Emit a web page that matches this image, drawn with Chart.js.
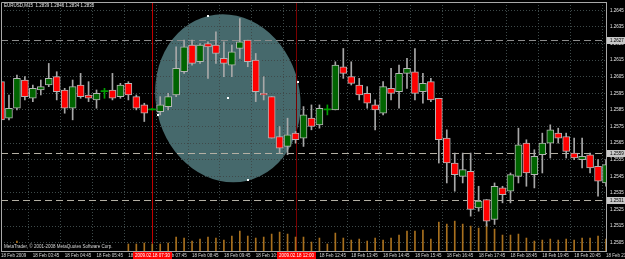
<!DOCTYPE html>
<html>
<head>
<meta charset="utf-8">
<script src="https://cdn.jsdelivr.net/npm/chart.js@4.4.0/dist/chart.umd.min.js"></script>
<style>
  html, body { margin: 0; padding: 0; background: #000; }
  canvas { display: block; background: #000; }
</style>
</head>
<body>
<canvas id="chart" width="625" height="259"></canvas>
<script>
// EURUSD M15, 18 Feb 2009
const times = [
  "02:45", "03:00", "03:15", "03:30", "03:45", "04:00", "04:15", "04:30", "04:45", "05:00",
  "05:15", "05:30", "05:45", "06:00", "06:15", "06:30", "06:45", "07:00", "07:15", "07:30",
  "07:45", "08:00", "08:15", "08:30", "08:45", "09:00", "09:15", "09:30", "09:45", "10:00",
  "10:15", "10:30", "10:45", "11:00", "11:15", "11:30", "11:45", "12:00", "12:15", "12:30",
  "12:45", "13:00", "13:15", "13:30", "13:45", "14:00", "14:15", "14:30", "14:45", "15:00",
  "15:15", "15:30", "15:45", "16:00", "16:15", "16:30", "16:45", "17:00", "17:15", "17:30",
  "17:45", "18:00", "18:15", "18:30", "18:45", "19:00", "19:15", "19:30", "19:45", "20:00",
  "20:15", "20:30", "20:45", "21:00", "21:15", "21:30", "21:45"
];

const opens = [
  1.2602, 1.2580, 1.2586, 1.2603, 1.2592, 1.2597, 1.2600, 1.2605, 1.2597, 1.2586,
  1.2600, 1.2594, 1.2591, 1.2596, 1.2597, 1.2593, 1.2601, 1.2593, 1.2588, 1.2585,
  1.2584, 1.2587, 1.2594, 1.2608, 1.2624, 1.2614, 1.2625, 1.2624, 1.2616, 1.2612,
  1.2622, 1.2627, 1.2615, 1.2595, 1.2593, 1.2569, 1.2563, 1.2571, 1.2568, 1.2580,
  1.2576, 1.2585, 1.2585, 1.2611, 1.2605, 1.2600, 1.2595, 1.2588, 1.2583, 1.2598,
  1.2596, 1.2607, 1.2608, 1.2596, 1.2602, 1.2592, 1.2568, 1.2553, 1.2545, 1.2548,
  1.2526, 1.2531, 1.2519, 1.2538, 1.2536, 1.2545, 1.2565, 1.2546, 1.2558, 1.2565,
  1.2571, 1.2569, 1.2559, 1.2555, 1.2558, 1.2551, 1.2541
];
const highs = [
  1.2603, 1.2594, 1.2606, 1.2605, 1.2600, 1.2603, 1.2613, 1.2608, 1.2598, 1.2603,
  1.2607, 1.2602, 1.2597, 1.2598, 1.2607, 1.2601, 1.2602, 1.2594, 1.2589, 1.2586,
  1.2593, 1.2595, 1.2623, 1.2627, 1.2627, 1.2625, 1.2626, 1.2632, 1.2626, 1.2624,
  1.2640, 1.2627, 1.2619, 1.2605, 1.2593, 1.2575, 1.2580, 1.2572, 1.2587, 1.2588,
  1.2588, 1.2588, 1.2614, 1.2622, 1.2614, 1.2604, 1.2599, 1.2591, 1.2602, 1.2610,
  1.2612, 1.2616, 1.2622, 1.2607, 1.2604, 1.2592, 1.2573, 1.2559, 1.2559, 1.2559,
  1.2539, 1.2531, 1.2541, 1.2539, 1.2547, 1.2574, 1.2567, 1.2561, 1.2571, 1.2576,
  1.2574, 1.2571, 1.2568, 1.2568, 1.2559, 1.2555, 1.2555
];
const lows = [
  1.2576, 1.2579, 1.2585, 1.2591, 1.2590, 1.2594, 1.2599, 1.2591, 1.2583, 1.2579,
  1.2592, 1.2590, 1.2586, 1.2592, 1.2591, 1.2592, 1.2591, 1.2585, 1.2578, 1.2585,
  1.2582, 1.2585, 1.2593, 1.2607, 1.2612, 1.2613, 1.2604, 1.2613, 1.2605, 1.2605,
  1.2616, 1.2611, 1.2590, 1.2591, 1.2568, 1.2559, 1.2558, 1.2565, 1.2563, 1.2573,
  1.2574, 1.2582, 1.2585, 1.2604, 1.2600, 1.2591, 1.2586, 1.2573, 1.2582, 1.2591,
  1.2586, 1.2598, 1.2591, 1.2589, 1.2590, 1.2553, 1.2541, 1.2536, 1.2541, 1.2521,
  1.2524, 1.2515, 1.2516, 1.2529, 1.2529, 1.2541, 1.2539, 1.2538, 1.2547, 1.2556,
  1.2565, 1.2556, 1.2555, 1.2550, 1.2547, 1.2533, 1.2539
];
const closes = [
  1.2579, 1.2586, 1.2604, 1.2593, 1.2598, 1.2599, 1.2604, 1.2596, 1.2586, 1.2599,
  1.2593, 1.2592, 1.2595, 1.2596, 1.2592, 1.2600, 1.2594, 1.2586, 1.2583, 1.2585,
  1.2588, 1.2593, 1.2610, 1.2623, 1.2613, 1.2624, 1.2623, 1.2619, 1.2613, 1.2620,
  1.2626, 1.2614, 1.2596, 1.2594, 1.2568, 1.2562, 1.2570, 1.2567, 1.2582, 1.2575,
  1.2586, 1.2585, 1.2612, 1.2607, 1.2601, 1.2594, 1.2589, 1.2585, 1.2599, 1.2595,
  1.2607, 1.2610, 1.2595, 1.2601, 1.2591, 1.2567, 1.2553, 1.2546, 1.2549, 1.2525,
  1.2530, 1.2518, 1.2539, 1.2534, 1.2546, 1.2564, 1.2547, 1.2557, 1.2565, 1.2573,
  1.2568, 1.2560, 1.2556, 1.2557, 1.2550, 1.2542, 1.2552
];
const volumes = [
  80, 100, 200, 100, 80, 100, 120, 80, 100, 120,
  100, 80, 100, 60, 100, 80, 140, 140, 160, 140,
  140, 160, 280, 260, 200, 240, 280, 260, 220, 300,
  400, 300, 260, 280, 340, 380, 340, 280, 280, 180,
  260, 140, 360, 260, 220, 240, 200, 260, 220, 260,
  320, 400, 400, 420, 240, 580, 540, 600, 540, 500,
  460, 540, 440, 320, 320, 340, 260, 200, 220, 240,
  220, 240, 220, 260, 260, 300, 240
];

const yTicks = [
  1.2505, 1.2515, 1.2525, 1.2535, 1.2545, 1.2555, 1.2565, 1.2575,
  1.2585, 1.2595, 1.2605, 1.2615, 1.2625, 1.2635, 1.2645
];

// horizontal lines, vertical markers and the ellipse object on the chart
const hLevels = [1.2627, 1.2559, 1.2531];
const vMarkers = ["07:30", "12:00"];
const ellipseCenter = [28.5, 1.2592];
const ellipseTop = [25.95, 1.26415];
const ellipseRight = [37.3, 1.2602];

const FONT = "Liberation Sans";
const gridColor = "#3e4a4a";

const isDoji = (i) => opens[i] === closes[i];
const isBull = (i) => closes[i] >= opens[i];

const noPadding = (s) => {
  s.paddingTop = 0;
  s.paddingBottom = 0;
  s.paddingLeft = 0;
  s.paddingRight = 0;
};

const overlays = {
  id: "overlays",
  beforeDraw(chart) {
    const { ctx, chartArea: a, scales: { x, y } } = chart;
    const px = (p) => ({ x: x.getPixelForValue(p[0]), y: y.getPixelForValue(p[1]) });
    const c = px(ellipseCenter), t = px(ellipseTop), r = px(ellipseRight);
    const rx = Math.hypot(r.x - c.x, r.y - c.y);
    const ry = Math.hypot(t.x - c.x, t.y - c.y);
    const rot = Math.atan2(r.y - c.y, r.x - c.x);
    ctx.save();
    ctx.beginPath();
    ctx.rect(a.left, a.top, a.right - a.left, a.bottom - a.top);
    ctx.clip();
    ctx.beginPath();
    ctx.ellipse(c.x, c.y, rx, ry, rot, 0, Math.PI * 2);
    ctx.fillStyle = "#46696c";
    ctx.fill();
    ctx.restore();
  },
  beforeDatasetsDraw(chart) {
    const { ctx, chartArea: a, scales: { x, y } } = chart;
    ctx.save();
    ctx.lineWidth = 1;
    hLevels.forEach((v, i) => {
      const py = Math.round(y.getPixelForValue(v)) + 0.5;
      ctx.strokeStyle = i === 0 ? "#8c8c8c" : "#b4b0a4";
      ctx.setLineDash([7, 4]);
      ctx.beginPath();
      ctx.moveTo(a.left, py);
      ctx.lineTo(a.right, py);
      ctx.stroke();
    });
    ctx.setLineDash([]);
    vMarkers.forEach((t, i) => {
      const vx = Math.round(x.getPixelForValue(times.indexOf(t))) + 0.5;
      ctx.strokeStyle = i === 0 ? "#c00000" : "#7a0000";
      ctx.beginPath();
      ctx.moveTo(vx, a.top);
      ctx.lineTo(vx, a.bottom);
      ctx.stroke();
    });
    ctx.restore();
  },
  afterDraw(chart) {
    const { ctx, chartArea: a, scales: { x, y } } = chart;
    ctx.save();
    // frame
    ctx.strokeStyle = "#a8a8a8";
    ctx.lineWidth = 1;
    ctx.beginPath();
    ctx.moveTo(a.left + 0.5, a.bottom);
    ctx.lineTo(a.left + 0.5, a.top + 0.5);
    ctx.lineTo(a.right, a.top + 0.5);
    ctx.stroke();

    // ellipse anchor points
    const px = (p) => ({ x: x.getPixelForValue(p[0]), y: y.getPixelForValue(p[1]) });
    const c = px(ellipseCenter), t = px(ellipseTop), r = px(ellipseRight);
    const pts = [c, t, r, { x: 2 * c.x - t.x, y: 2 * c.y - t.y }, { x: 2 * c.x - r.x, y: 2 * c.y - r.y }];
    ctx.fillStyle = "#ffffff";
    pts.forEach((p) => ctx.fillRect(Math.round(p.x) - 1, Math.round(p.y) - 1, 2, 2));

    // header and copyright
    ctx.font = "4.5px " + FONT;
    ctx.textBaseline = "middle";
    ctx.textAlign = "left";
    ctx.fillStyle = "#e8e8e8";
    ctx.fillText("EURUSD,M15  1.2839 1.2846 1.2834 1.2835", 4, 5.5);
    ctx.fillStyle = "#000";
    ctx.fillRect(a.left + 1, 243, 123, 8);
    ctx.fillStyle = "#d8d8d8";
    ctx.fillText("MetaTrader, \u00a9 2001-2008 MetaQuotes Software Corp.", 4, 247);

    // price boxes for the horizontal lines
    hLevels.forEach((v) => {
      const py = Math.round(y.getPixelForValue(v));
      ctx.fillStyle = "#c8c8c8";
      ctx.fillRect(a.right + 1, py - 3, 19, 7);
      ctx.fillStyle = "#000";
      ctx.fillText(v.toFixed(4), a.right + 4, py + 0.5);
    });

    // time boxes for the vertical markers
    vMarkers.forEach((tm) => {
      const vx = Math.round(x.getPixelForValue(times.indexOf(tm)));
      ctx.fillStyle = "#ff0000";
      ctx.fillRect(vx - 19, a.bottom + 1, 39, 8);
      ctx.fillStyle = "#ffffff";
      ctx.textAlign = "center";
      ctx.fillText("2009.02.18 " + tm, vx + 0.5, a.bottom + 5);
      ctx.textAlign = "left";
    });
    ctx.restore();
  }
};

new Chart(document.getElementById("chart"), {
  type: "bar",
  data: {
    labels: times,
    datasets: [
      {
        label: "Body",
        data: opens.map((o, i) => [o, closes[i]]),
        yAxisID: "y",
        grouped: false,
        order: 1,
        barThickness: (ctx) => (isDoji(ctx.dataIndex) ? 7 : 6),
        minBarLength: 1,
        backgroundColor: (ctx) => (isDoji(ctx.dataIndex) ? "#00a000" : isBull(ctx.dataIndex) ? "#006400" : "#ff0000"),
        borderColor: "#b4b4b4",
        borderWidth: (ctx) => (isDoji(ctx.dataIndex) ? 0 : 1),
        borderSkipped: false
      },
      {
        label: "Wick",
        data: lows.map((l, i) => [l, highs[i]]),
        yAxisID: "y",
        grouped: false,
        order: 2,
        barThickness: 1,
        backgroundColor: (ctx) => (isDoji(ctx.dataIndex) ? "#00a000" : "#a8a8a8")
      },
      {
        label: "Volume",
        data: volumes,
        yAxisID: "yv",
        grouped: false,
        order: 3,
        barThickness: 1,
        backgroundColor: "#a8701e"
      }
    ]
  },
  options: {
    responsive: false,
    animation: false,
    layout: { padding: { left: 1, top: 2, right: 0, bottom: 0 } },
    plugins: { legend: { display: false }, tooltip: { enabled: false } },
    scales: {
      x: {
        type: "category",
        offset: false,
        grid: {
          color: (ctx) => (ctx.index % 4 === 0 ? gridColor : "transparent"),
          drawTicks: false
        },
        border: { display: true, color: "#a8a8a8", dash: [1, 2] },
        ticks: {
          autoSkip: false,
          maxRotation: 0,
          align: "start",
          padding: 2,
          color: "#d8d8d8",
          font: { size: 4.5, family: FONT },
          callback: (v, i) => (i % 4 === 0 ? (i === 0 ? "18 Feb 2009" : "18 Feb " + times[i]) : "")
        },
        afterFit: (s) => { s.height = 8; noPadding(s); }
      },
      y: {
        position: "right",
        min: 1.2500,
        max: 1.2650,
        afterBuildTicks: (s) => { s.ticks = yTicks.map((v) => ({ value: v })); },
        grid: { color: gridColor, drawTicks: false },
        border: { display: true, color: "#a8a8a8", dash: [1, 2] },
        ticks: {
          padding: 4,
          color: "#e8e8e8",
          font: { size: 4.5, family: FONT },
          callback: (v) => Number(v).toFixed(4)
        },
        afterFit: (s) => { s.width = 19; noPadding(s); }
      },
      yv: {
        display: false,
        min: 0,
        max: 5000,
        afterFit: noPadding
      }
    }
  },
  plugins: [overlays]
});
</script>
</body>
</html>
